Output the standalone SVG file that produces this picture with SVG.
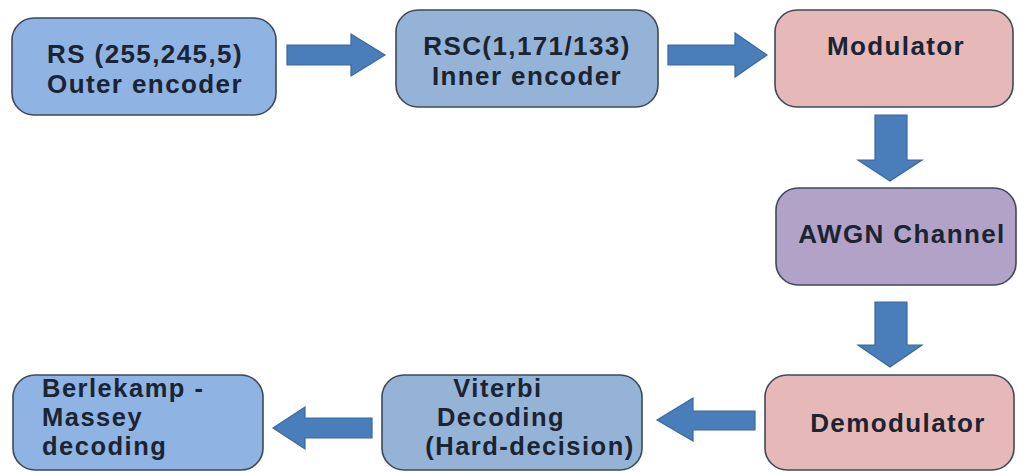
<svg xmlns="http://www.w3.org/2000/svg" width="1018" height="472" viewBox="0 0 1018 472">
  <style>
    .box { stroke: #3e4a5a; stroke-width: 1.6; }
    .blue { fill: #8fb3e2; }
    .steel { fill: #95b3d7; }
    .pink { fill: #e6b9b8; }
    .purple { fill: #b3a2c7; }
    .label { font-family: "Liberation Sans", Arial, sans-serif; font-weight: 700; font-size: 26px; letter-spacing: 1.4px; fill: #1b2433; }
    .small { font-size: 25.5px; letter-spacing: 1.5px; }
    .mid { text-anchor: middle; }
    .arrow { fill: #4a7ebb; stroke: #3a679b; stroke-width: 1.2; }
  </style>
  <rect width="1018" height="472" fill="#ffffff"/>

  <!-- block arrows between stages -->
  <g id="connectors">
    <polygon class="arrow" points="287,45 351,45 351,34 385,55 351,76 351,65 287,65"/>
    <polygon class="arrow" points="668,45 735,45 735,33 767,55 735,77 735,65 668,65"/>
    <polygon class="arrow" points="875,115 907,115 907,160 922,160 890,181 858,160 875,160"/>
    <polygon class="arrow" points="875,302 907,302 907,345 922,345 890,367 858,345 875,345"/>
    <polygon class="arrow" points="755,411 755,430 693,430 693,441 657,420 693,398 693,411"/>
    <polygon class="arrow" points="372,418 372,438 305,438 305,449 273,428 305,407 305,418"/>
  </g>

  <g id="outer-encoder">
    <rect class="box blue" x="12" y="18" width="264" height="97" rx="22"/>
    <text class="label mid" x="145" y="63">RS (255,245,5)</text>
    <text class="label mid" x="145" y="93">Outer encoder</text>
  </g>

  <g id="inner-encoder">
    <rect class="box steel" x="396" y="10" width="262" height="97" rx="22"/>
    <text class="label mid" x="527" y="55">RSC(1,171/133)</text>
    <text class="label mid" x="527" y="85">Inner encoder</text>
  </g>

  <g id="modulator">
    <rect class="box pink" x="775" y="10" width="238" height="97" rx="22"/>
    <text class="label mid" x="896" y="55">Modulator</text>
  </g>

  <g id="awgn-channel">
    <rect class="box purple" x="776" y="188" width="240" height="97" rx="22"/>
    <text class="label mid" x="902" y="243">AWGN Channel</text>
  </g>

  <g id="demodulator">
    <rect class="box pink" x="765" y="375" width="249" height="95" rx="22"/>
    <text class="label mid" x="898" y="432">Demodulator</text>
  </g>

  <g id="viterbi-decoder">
    <rect class="box steel" x="382" y="375" width="260" height="95" rx="22"/>
    <text class="label small mid" x="498" y="397">Viterbi</text>
    <text class="label small mid" x="501" y="426">Decoding</text>
    <text class="label small mid" x="530" y="455">(Hard-decision)</text>
  </g>

  <g id="berlekamp-massey-decoder">
    <rect class="box blue" x="13" y="375" width="250" height="95" rx="22"/>
    <text class="label small" x="42" y="397">Berlekamp -</text>
    <text class="label small" x="42" y="426">Massey</text>
    <text class="label small" x="42" y="455">decoding</text>
  </g>
</svg>
